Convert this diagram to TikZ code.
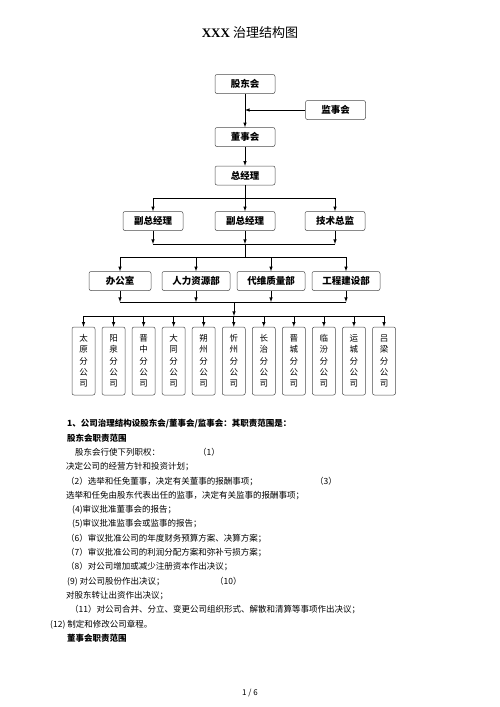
\documentclass[tikz,border=0pt]{standalone}
\usepackage{fontspec}
\setmainfont{Liberation Serif}
\newfontfamily\cjk{Noto Sans CJK SC}
\usetikzlibrary{arrows,positioning}
\tikzstyle{box} = [draw=black!70, rounded corners=2pt, line width=0.5pt,%
	minimum width=60pt, minimum height=19pt, inner sep=1pt,%
	font=\cjk\bfseries\fontsize{9.5}{11}\selectfont]
\tikzstyle{branch} = [draw=black!70, rounded corners=2pt, line width=0.5pt,%
	minimum width=23pt, minimum height=68pt, inner sep=0pt, align=center,%
	font=\cjk\fontsize{8.5}{11.3}\selectfont]
\tikzstyle{link} = [line width=0.6pt, -latex]
\tikzstyle{wire} = [line width=0.6pt]
\tikzstyle{txt} = [anchor=west, inner sep=0pt, font=\cjk\fontsize{8.5}{10}\selectfont]
\tikzstyle{head} = [txt, font=\cjk\bfseries\fontsize{8.5}{10}\selectfont]
\begin{document}
\begin{tikzpicture}[x=1pt,y=-1pt]
		\useasboundingbox (0,0) rectangle (500,707);
		\fill[white] (0,0) rectangle (500,707);
		% title
		\node[font=\fontsize{13}{15}\selectfont] (title) at (250,33) {{\bfseries XXX} {\cjk 治理结构图}};
		% top of the chart
		\node[box] (gdh) at (245,84) {股东会};
		\node[box] (jsh) at (335.5,110) {监事会};
		\node[box] (dsh) at (245,137) {董事会};
		\node[box] (zjl) at (245,175.5) {总经理};
		\coordinate (jshin) at (245,110);
		\draw[link] (gdh) -- (dsh);
		\draw[link] (jsh) -- (jshin);
		\draw[link] (dsh) -- (zjl);
		% managers
		\node[box] (fz1) at (153,221) {副总经理};
		\node[box] (fz2) at (245,221) {副总经理};
		\node[box] (jszj) at (335,221) {技术总监};
		\coordinate (bara) at (245,198);
		\coordinate (barb) at (245,244);
		\draw[wire] (zjl) -- (bara);
		\draw[link] (bara) -| (fz1);
		\draw[link] (bara) -- (fz2);
		\draw[link] (bara) -| (jszj);
		\draw[link] (fz1) -- (fz1 |- barb);
		\draw[link] (fz2) -- (barb);
		\draw[link] (jszj) -- (jszj |- barb);
		\draw[wire] (fz1 |- barb) -- (jszj |- barb);
		% departments
		\node[box, minimum width=62pt] (bgs) at (120,281) {办公室};
		\node[box, minimum width=68pt] (rlzy) at (196,281) {人力资源部};
		\node[box, minimum width=68pt] (dwzl) at (271,281) {代维质量部};
		\node[box, minimum width=68pt] (gcjs) at (346,281) {工程建设部};
		\coordinate (barc) at (245,257);
		\draw[wire] (barb) -- (barc);
		\draw[wire] (bgs |- barc) -- (gcjs |- barc);
		\foreach \d in {bgs,rlzy,dwzl,gcjs}
			\draw[link] (\d |- barc) -- (\d);
		% branches
		\foreach \a/\b [count=\i from 0] in {太/原,阳/泉,晋/中,大/同,朔/州,忻/州,长/治,晋/城,临/汾,运/城,吕/梁}
			\node[branch] (br\i) at (83.5+30.05*\i,361) {\a\\\b\\分\\公\\司};
		\coordinate (bard) at (234,302);
		\coordinate (bare) at (234,316);
		\foreach \d in {bgs,rlzy,dwzl,gcjs}
			\draw[link] (\d) -- (\d |- bard);
		\draw[wire] (bgs |- bard) -- (gcjs |- bard);
		\draw[link] (bard) -- (bare);
		\draw[wire] (br0 |- bare) -- (br10 |- bare);
		\foreach \i in {0,...,10}
			\draw[link] (br\i |- bare) -- (br\i);
		% text below the chart
		\node[head] (l1) at (67,424) {1、公司治理结构设股东会/董事会/监事会：其职责范围是：};
		\node[head] (l2) at (67,438.3) {股东会职责范围};
		\node[txt] (l3) at (75,452.6) {股东会行使下列职权：};
		\node[txt] (l3b) at (198,452.6) {（1）};
		\node[txt] (l4) at (66,466.9) {决定公司的经营方针和投资计划；};
		\node[txt] (l5) at (66,481.2) {（2）选举和任免董事，决定有关董事的报酬事项；};
		\node[txt] (l5b) at (315,481.2) {（3）};
		\node[txt] (l6) at (66,495.5) {选举和任免由股东代表出任的监事，决定有关监事的报酬事项；};
		\node[txt] (l7) at (72,509.8) {(4)审议批准董事会的报告；};
		\node[txt] (l8) at (72,524.1) {(5)审议批准监事会或监事的报告；};
		\node[txt] (l9) at (66,538.4) {（6）审议批准公司的年度财务预算方案、决算方案；};
		\node[txt] (l10) at (66,552.7) {（7）审议批准公司的利润分配方案和弥补亏损方案；};
		\node[txt] (l11) at (66,567) {（8）对公司增加或减少注册资本作出决议；};
		\node[txt] (l12) at (67,581.3) {(9) 对公司股份作出决议；};
		\node[txt] (l12b) at (215,581.3) {（10）};
		\node[txt] (l13) at (66,595.6) {对股东转让出资作出决议；};
		\node[txt] (l14) at (70,609.9) {（11）对公司合并、分立、变更公司组织形式、解散和清算等事项作出决议；};
		\node[txt] (l15) at (50,624.2) {(12) 制定和修改公司章程。};
		\node[head] (l16) at (67,638.5) {董事会职责范围};
		% page number
		\node[font=\cjk\fontsize{8}{10}\selectfont] (page) at (250,693) {1 / 6};
	\end{tikzpicture}
\end{document}
